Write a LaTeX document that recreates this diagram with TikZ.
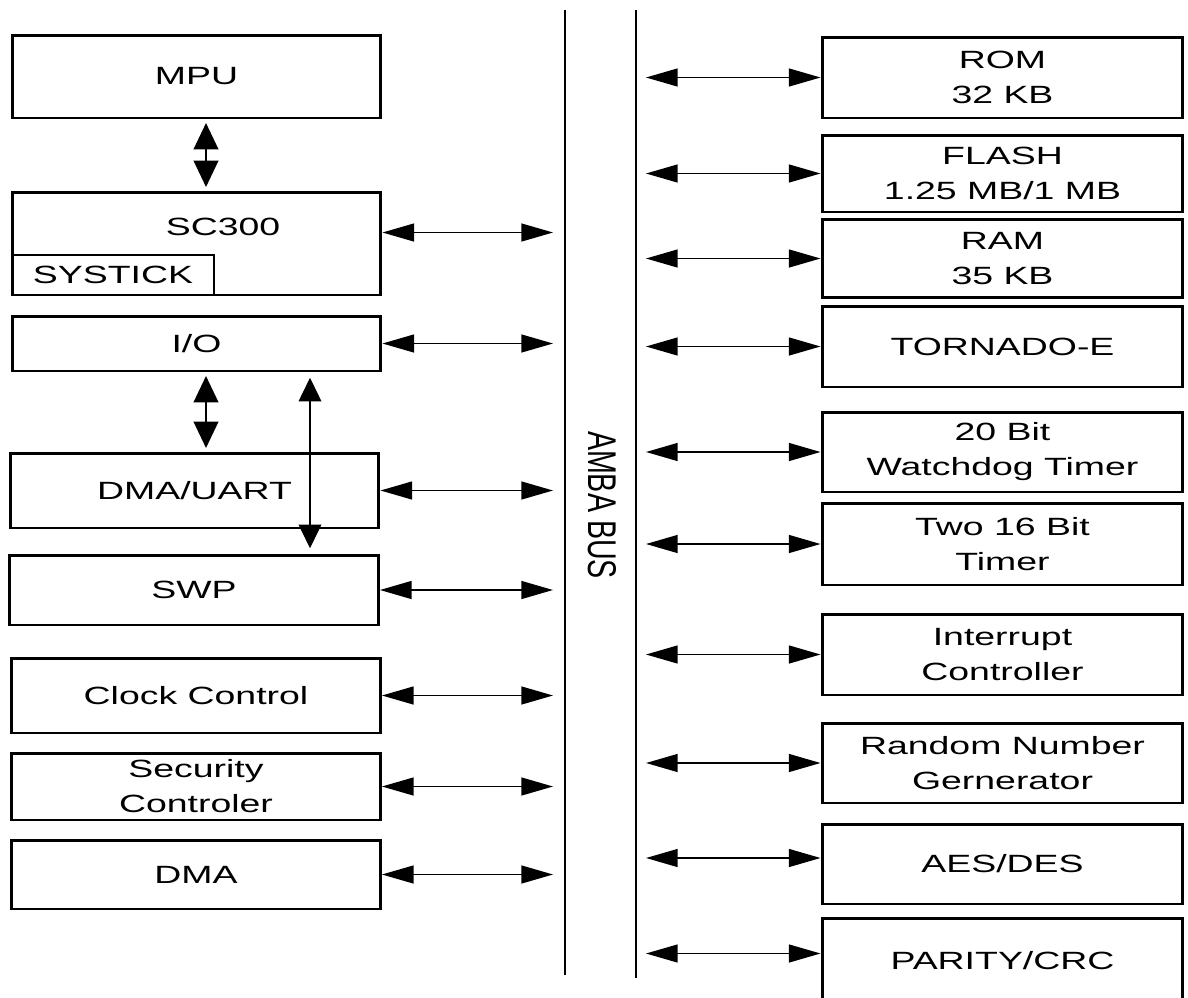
\documentclass[tikz,border=0pt]{standalone}
\usepackage{fontspec}
\setmainfont[FakeStretch=1.5]{Liberation Sans}
\newfontfamily\busfont{Liberation Sans}
\usepackage{graphicx}
\usetikzlibrary{arrows.meta}

\tikzset{
	txt/.style={inner sep=0pt, align=center, font=\fontsize{14.2}{19.9}\selectfont},
	blk/.style={txt, draw, line width=1.7pt},
	lblk/.style={blk, minimum width=7.38cm},
	rblk/.style={blk, minimum width=7.22cm},
	link/.style={line width=0.85pt, {Triangle[length=18pt,width=10.2pt]}-{Triangle[length=18pt,width=10.2pt]}},
	vlink/.style={line width=1.2pt, shorten <=2pt, shorten >=2pt, {Triangle[length=15pt,width=14pt]}-{Triangle[length=15pt,width=14pt]}},
	tlink/.style={line width=0.6pt, shorten <=3pt, shorten >=3pt, {Triangle[length=13.5pt,width=13pt]}-{Triangle[length=13.5pt,width=13pt]}},
}

\begin{document}
\begin{tikzpicture}[x=0.02cm, y=-0.02cm]
	\useasboundingbox (0,0) rectangle (1188,998);
	\draw[line width=1.7pt] (565,10) -- (565,975);
	\draw[line width=1.7pt] (636,10) -- (636,978);
	\node[rotate=-90] (buslbl) at (602,505) {\busfont\fontsize{16.3}{20}\selectfont\scalebox{1}[1.4]{AMBA BUS}};
	\coordinate (busL) at (553,0);
	\coordinate (busR) at (646,0);
	\coordinate (colA) at (206,0);
	\coordinate (colB) at (310,0);

	\node[lblk, minimum height=1.66cm] (mpu) at (196.5,76.5) {MPU};
	\node[lblk, minimum height=2.06cm] (sc) at (196.5,243.5) {};
	\node[txt] (sctxt) at (223,227) {SC300};
	\node[blk, minimum width=4.04cm, minimum height=0.8cm, anchor=south west] (systick) at (sc.south west) {SYSTICK};
	\node[lblk, minimum height=1.1cm] (io) at (196.5,343.5) {I/O};
	\node[lblk, minimum height=1.5cm] (uart) at (194.5,490.5) {DMA/UART};
	\node[lblk, minimum height=1.4cm] (swp) at (194,590) {SWP};
	\node[lblk, minimum height=1.5cm] (clk) at (196,695.5) {Clock Control};
	\node[lblk, minimum height=1.34cm] (sec) at (196,786.5) {Security\\Controler};
	\node[lblk, minimum height=1.38cm] (dma) at (196,874.5) {DMA};

	\node[rblk, minimum height=1.62cm] (rom) at (1002.5,77.5) {ROM\\32 KB};
	\node[rblk, minimum height=1.54cm] (flash) at (1002.5,173.5) {FLASH\\1.25 MB/1 MB};
	\node[rblk, minimum height=1.56cm] (ram) at (1002.5,258.5) {RAM\\35 KB};
	\node[rblk, minimum height=1.62cm] (torn) at (1002.5,346.5) {TORNADO-E};
	\node[rblk, minimum height=1.6cm] (wdt) at (1002.5,452) {20 Bit\\Watchdog Timer};
	\node[rblk, minimum height=1.64cm] (tmr) at (1002.5,544) {Two 16 Bit\\Timer};
	\node[rblk, minimum height=1.62cm] (irq) at (1002.5,654.5) {Interrupt\\Controller};
	\node[rblk, minimum height=1.6cm] (rng) at (1002.5,763) {Random Number\\Gernerator};
	\node[rblk, minimum height=1.6cm] (aes) at (1002.5,864) {AES/DES};
	\node[rblk, minimum height=1.7cm] (crc) at (1002.5,960.5) {PARITY/CRC};

	\draw[vlink] (colA |- mpu.south) -- (colA |- sc.north);
	\draw[vlink] (colA |- io.south) -- (colA |- uart.north);
	\draw[tlink] (colB |- io.south) -- (colB |- swp.north);

	\draw[link] ([yshift=0.22cm]sc.east) -- ([yshift=0.22cm]sc.east -| busL);
	\foreach \n in {io,uart,swp,clk,sec,dma}
		\draw[link] (\n.east) -- (\n.east -| busL);
	\foreach \n in {rom,flash,ram,torn,wdt,tmr,irq,rng}
		\draw[link] (busR |- \n.west) -- (\n.west);
	\draw[link] (busR |- aes.west) ++(0,-6) coordinate (aesR) -- (aesR -| aes.west);
	\draw[link] (busR |- crc.west) ++(0,-7) coordinate (crcR) -- (crcR -| crc.west);
\end{tikzpicture}
\end{document}
